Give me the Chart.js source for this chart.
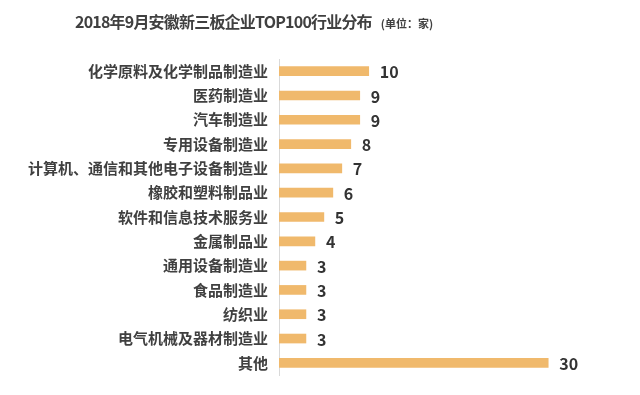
<!DOCTYPE html>
<html>
<head>
<meta charset="utf-8">
<script src="https://cdn.jsdelivr.net/npm/chart.js@4"></script>
<style>
html,body{margin:0;padding:0;background:#fff;}
#wrap{position:relative;width:640px;height:395px;}
#title{position:absolute;left:75px;top:9px;font-family:"Noto Sans CJK SC",sans-serif;color:#404040;font-weight:bold;font-size:16px;line-height:24px;white-space:nowrap;letter-spacing:-0.8px;}
#title span{font-size:11px;font-weight:bold;margin-left:9px;letter-spacing:0;}
canvas{position:absolute;left:0;top:0;}
</style>
</head>
<body>
<div id="wrap">
<canvas id="c" width="640" height="395"></canvas>
<div id="title">2018年9月安徽新三板企业TOP100行业分布<span>(单位：家)</span></div>
</div>
<script>
const categories = ["化学原料及化学制品制造业","医药制造业","汽车制造业","专用设备制造业","计算机、通信和其他电子设备制造业","橡胶和塑料制品业","软件和信息技术服务业","金属制品业","通用设备制造业","食品制造业","纺织业","电气机械及器材制造业","其他"];
const values = [10,9,9,8,7,6,5,4,3,3,3,3,30];

const valueLabels = {
  id:'valueLabels',
  afterDatasetsDraw(chart){
    const ctx = chart.ctx;
    const meta = chart.getDatasetMeta(0);
    ctx.save();
    ctx.font = 'bold 16px "Noto Sans CJK SC", sans-serif';
    ctx.fillStyle = '#333333';
    ctx.textAlign = 'left';
    ctx.textBaseline = 'middle';
    meta.data.forEach((bar,i)=>{
      ctx.fillText(String(values[i]), bar.x + 11, bar.y + 1);
    });
    ctx.restore();
  }
};

new Chart(document.getElementById('c'), {
  type:'bar',
  data:{
    labels:categories,
    datasets:[{data:values, backgroundColor:'#F0B96C', barThickness:9, borderWidth:0}]
  },
  options:{
    indexAxis:'y',
    responsive:false,
    animation:false,
    devicePixelRatio:1,
    layout:{padding:{left:0,right:20,top:59,bottom:16}},
    plugins:{legend:{display:false},tooltip:{enabled:false},title:{display:false}},
    scales:{
      x:{display:false,min:0,max:38},
      y:{
        afterFit(scale){scale.width = 279;},
        grid:{display:false,drawTicks:false},
        border:{display:true,color:'#d9d9d9',width:1},
        ticks:{padding:11,color:'#404040',font:{family:'"Noto Sans CJK SC", sans-serif',size:15,weight:'bold'}}
      }
    }
  },
  plugins:[valueLabels]
});
</script>
</body>
</html>
